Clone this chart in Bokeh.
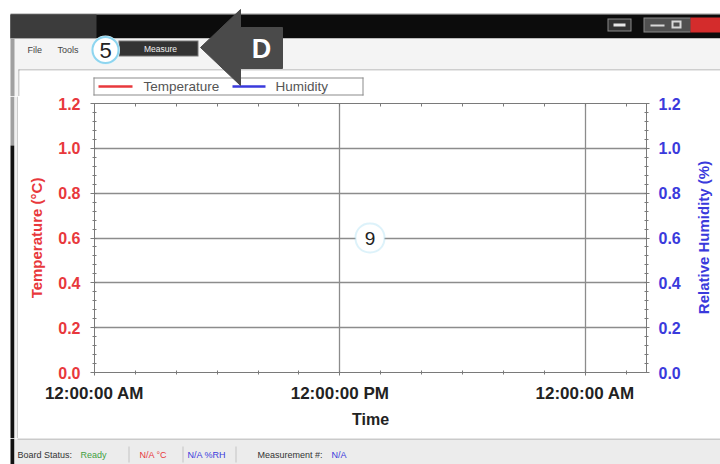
from datetime import datetime, timedelta
import math
from bokeh.plotting import figure
from bokeh.layouts import column, row
from bokeh.models import (Range1d, LinearAxis, FixedTicker, DatetimeTickFormatter,
                          NumeralTickFormatter, BoxAnnotation, Label, ColumnDataSource)
from bokeh.embed import file_html
from bokeh.resources import INLINE

# ---------------- data (no measurements recorded yet) ----------------
time = []
temperature = []
humidity = []

y_ticks = [0.0, 0.2, 0.4, 0.6, 0.8, 1.0, 1.2]
y_minor = [0.0, 0.04, 0.08, 0.12, 0.16, 0.2, 0.24, 0.28, 0.32, 0.36, 0.4, 0.44, 0.48, 0.52,
           0.56, 0.6, 0.64, 0.68, 0.72, 0.76, 0.8, 0.84, 0.88, 0.92, 0.96, 1.0, 1.04, 1.08,
           1.12, 1.16, 1.2]
x_major_hours = [0, 12, 24]
x_minor_hours = [0, 2, 4, 6, 8, 10, 12, 14, 16, 18, 20, 22, 24, 26]
x_span_hours = 27.0
start = datetime(2015, 1, 1, 0, 0, 0)

legend_labels = ["Temperature", "Humidity"]
menu_labels = ["File", "Tools", "Measure"]
status_texts = ["Board Status:", "Ready", "N/A °C", "N/A %RH", "Measurement #:", "N/A"]

FONT = "Liberation Sans"
RED = "#e8383c"
BLUE = "#3a3adc"
GRID = "#8c8c8c"
AXC = "#7a7a7a"

EPOCH = datetime(1970, 1, 1)
def ms(dt):
    return (dt - EPOCH).total_seconds() * 1000.0

x0 = ms(start)
x1 = ms(start + timedelta(hours=x_span_hours))


def no_align(f):
    try:
        f.frame_align = False
    except Exception:
        pass


def chrome_fig(w, h, y_top, y_bot, x_left=0):
    f = figure(width=w, height=h, output_backend="svg", toolbar_location=None,
               x_range=Range1d(x_left, x_left + w), y_range=Range1d(y_bot, y_top),
               x_axis_location=None, y_axis_location=None, min_border=0)
    f.grid.visible = False
    f.outline_line_color = None
    f.border_fill_color = "white"
    f.background_fill_color = "white"
    no_align(f)
    return f


def quad(f, l, t, r, b, color):
    f.quad(left=l, right=r, top=t, bottom=b, fill_color=color, line_color=None)


def lab(f, x, y, s, size, color, bold=False, align="left", angle=0.0):
    f.add_layout(Label(x=x, y=y, text=s, text_font=FONT, text_font_size=f"{size}px",
                       text_color=color, text_font_style="bold" if bold else "normal",
                       text_align=align, text_baseline="middle", angle=angle))


# ================= header (window title, menu, legend) =================
hd = chrome_fig(720, 96, 0, 96)
quad(hd, 10, 13, 720, 14, "#9a9a9a")
quad(hd, 10, 14, 720, 38, "#0c0c0c")
quad(hd, 10, 14, 96, 38, "#3c3c3c")
# window buttons
quad(hd, 607, 18, 631, 31, "#8a8a8a")
quad(hd, 608, 19, 630, 30, "#333333")
quad(hd, 613, 23, 625, 26, "#e6e6e6")
quad(hd, 643, 17, 690, 32, "#8a8a8a")
quad(hd, 644, 18, 690, 31, "#505050")
quad(hd, 650, 24, 664, 26, "#d8d8d8")
quad(hd, 671, 20, 681, 28, "#d8d8d8")
quad(hd, 673, 22, 679, 26, "#505050")
quad(hd, 690, 17, 720, 32, "#d42c2c")
# menu band
quad(hd, 10, 38, 720, 96, "#f4f4f4")
quad(hd, 10, 38, 14, 96, "#a0a0a0")
quad(hd, 18, 69, 720, 70, "#a8a8a8")
quad(hd, 18, 69, 19, 96, "#a8a8a8")
quad(hd, 19, 70, 720, 96, "white")
lab(hd, 27, 49, menu_labels[0], 9, "#444444")
lab(hd, 57, 49, menu_labels[1], 9, "#444444")
quad(hd, 118, 40, 198, 56, "#777777")
quad(hd, 119, 41, 197, 55, "#333333")
lab(hd, 160, 48, menu_labels[2], 8.5, "#f0f0f0", align="center")
# legend frame and keys
quad(hd, 93, 77, 363, 78, "#8c8c8c")
quad(hd, 93, 94, 363, 95, "#8c8c8c")
quad(hd, 93, 77, 94, 95, "#8c8c8c")
quad(hd, 362, 77, 363, 95, "#8c8c8c")
hd.segment(x0=[98], y0=[86], x1=[132], y1=[86], line_color=RED, line_width=2.5)
lab(hd, 143, 86, legend_labels[0], 13.5, "#555555")
hd.segment(x0=[232], y0=[86], x1=[265], y1=[86], line_color=BLUE, line_width=2.5)
lab(hd, 275, 86, legend_labels[1], 13.5, "#555555")
# callout 5
hd.circle(x=[105], y=[49.5], radius=14.5, fill_color="#dff4fb", line_color=None)
hd.circle(x=[105], y=[49.5], radius=13, fill_color="white", line_color="#8ed5ef", line_width=2)
lab(hd, 105, 50, "5", 22, "#222222", align="center")
# arrow D
hd.patch(x=[240, 200, 240, 240, 282, 282, 240], y=[9, 47, 85, 68, 68, 27, 27],
         fill_color="#4a4a4a", line_color="#4a4a4a")
lab(hd, 261, 48, "D", 27, "white", bold=True, align="center")

# ================= left window edge =================
st = chrome_fig(18, 342, 96, 438)
quad(st, 10, 96, 14, 145, "#a0a0a0")
quad(st, 10, 145, 14, 438, "#111111")
quad(st, 14, 96, 18, 438, "#f0f0f0")
quad(st, 17, 96, 18, 438, "#a8a8a8")

# ================= chart =================
src = ColumnDataSource(data=dict(time=time, temperature=temperature, humidity=humidity))
p = figure(width=672, height=342, output_backend="svg", toolbar_location=None,
           x_axis_type="datetime", x_range=Range1d(x0, x1), y_range=Range1d(0, 1.2),
           min_border_left=76, min_border_right=44, min_border_top=7, min_border_bottom=66)
p.border_fill_color = "white"
p.background_fill_color = "white"
p.outline_line_color = None
p.extra_y_ranges = {"hum": Range1d(0, 1.2)}
no_align(p)

x_ticker = FixedTicker(ticks=[ms(start + timedelta(hours=h)) for h in x_major_hours],
                       minor_ticks=[ms(start + timedelta(hours=h)) for h in x_minor_hours])
top_ticker = FixedTicker(ticks=[], minor_ticks=[ms(start + timedelta(hours=h)) for h in x_minor_hours])
y_ticker = FixedTicker(ticks=y_ticks, minor_ticks=y_minor)
fmt = "%I:%M:%S %p"
x_fmt = DatetimeTickFormatter(microseconds=fmt, milliseconds=fmt, seconds=fmt, minsec=fmt,
                              minutes=fmt, hourmin=fmt, hours=fmt, days=fmt, months=fmt, years=fmt)

xa = p.xaxis[0]
xa.ticker = x_ticker
xa.formatter = x_fmt
xa.axis_label = "Time"
xa.axis_label_text_font = FONT
xa.axis_label_text_font_style = "bold"
xa.axis_label_text_font_size = "16px"
xa.axis_label_text_color = "#222222"
xa.axis_label_standoff = 5
xa.major_label_text_font = FONT
xa.major_label_text_font_style = "bold"
xa.major_label_text_font_size = "17px"
xa.major_label_text_color = "#222222"
xa.major_label_standoff = 8
xa.axis_line_color = AXC
xa.major_tick_line_color = AXC
xa.minor_tick_line_color = AXC
xa.major_tick_in = 0
xa.major_tick_out = 3
xa.minor_tick_in = 2
xa.minor_tick_out = 2

ta = LinearAxis(ticker=top_ticker)
ta.axis_line_color = AXC
ta.minor_tick_line_color = AXC
ta.major_tick_in = 0
ta.major_tick_out = 0
ta.minor_tick_in = 3
ta.minor_tick_out = 0
ta.major_label_standoff = 0
p.add_layout(ta, "above")

ya = p.yaxis[0]
ya.ticker = y_ticker
ya.formatter = NumeralTickFormatter(format="0.0")
ya.axis_label = "Temperature (°C)"
ya.axis_label_text_font = FONT
ya.axis_label_text_font_style = "bold"
ya.axis_label_text_font_size = "15px"
ya.axis_label_text_color = RED
ya.axis_label_standoff = 10
ya.major_label_text_font = FONT
ya.major_label_text_font_style = "bold"
ya.major_label_text_font_size = "16px"
ya.major_label_text_color = RED
ya.major_label_standoff = 10
ya.axis_line_color = AXC
ya.major_tick_line_color = AXC
ya.minor_tick_line_color = AXC
ya.major_tick_in = 0
ya.major_tick_out = 4
ya.minor_tick_in = 2
ya.minor_tick_out = 2

ra = LinearAxis(y_range_name="hum", ticker=y_ticker, formatter=NumeralTickFormatter(format="0.0"))
ra.major_label_text_font = FONT
ra.major_label_text_font_style = "bold"
ra.major_label_text_font_size = "16px"
ra.major_label_text_color = BLUE
ra.major_label_standoff = 9
ra.axis_line_color = AXC
ra.major_tick_line_color = AXC
ra.minor_tick_line_color = AXC
ra.major_tick_in = 0
ra.major_tick_out = 3
ra.minor_tick_in = 2
ra.minor_tick_out = 2
p.add_layout(ra, "right")

p.xgrid.ticker = x_ticker
p.ygrid.ticker = y_ticker
for g in (p.xgrid[0], p.ygrid[0]):
    g.grid_line_color = GRID
    g.grid_line_width = 1.3

r_t = p.line(x="time", y="temperature", source=src, line_color=RED, line_width=2)
r_h = p.line(x="time", y="humidity", source=src, line_color=BLUE, line_width=2, y_range_name="hum")

# callout 9 (canvas px of this panel)
p.add_layout(BoxAnnotation(left=337, right=366, top=127, bottom=156,
                           left_units="canvas", right_units="canvas", top_units="canvas",
                           bottom_units="canvas", fill_color="white", fill_alpha=1,
                           line_color="#8ed5ef", line_width=2, border_radius=14))
p.add_layout(Label(x=351.5, y=142, x_units="canvas", y_units="canvas", text="9", text_font=FONT,
                   text_font_size="19px", text_color="#222222", text_align="center",
                   text_baseline="middle"))

# ================= right strip: humidity axis title =================
rt = chrome_fig(30, 342, 96, 438, x_left=690)
lab(rt, 703, 237, "Relative Humidity (%)", 15, BLUE, bold=True, align="center", angle=math.pi / 2)

# ================= status bar =================
ft = chrome_fig(720, 26, 438, 464)
quad(ft, 10, 438, 14, 464, "#111111")
quad(ft, 14, 438, 720, 464, "#ececec")
quad(ft, 17, 438, 720, 439, "#a8a8a8")
lab(ft, 17, 454, status_texts[0], 9, "#333333")
lab(ft, 80, 454, status_texts[1], 9, "#3f9f3f")
quad(ft, 128, 446, 129, 462, "#c4c4c4")
lab(ft, 139, 454, status_texts[2], 9, RED)
quad(ft, 182, 446, 183, 462, "#c4c4c4")
lab(ft, 187, 454, status_texts[3], 9, BLUE)
quad(ft, 235, 446, 236, 462, "#c4c4c4")
lab(ft, 257, 454, status_texts[4], 9, "#333333")
lab(ft, 331, 454, status_texts[5], 9, BLUE)

layout = column(hd, row(st, p, rt, spacing=0), ft, spacing=0)
open("out.html", "w").write(file_html(layout, INLINE))
